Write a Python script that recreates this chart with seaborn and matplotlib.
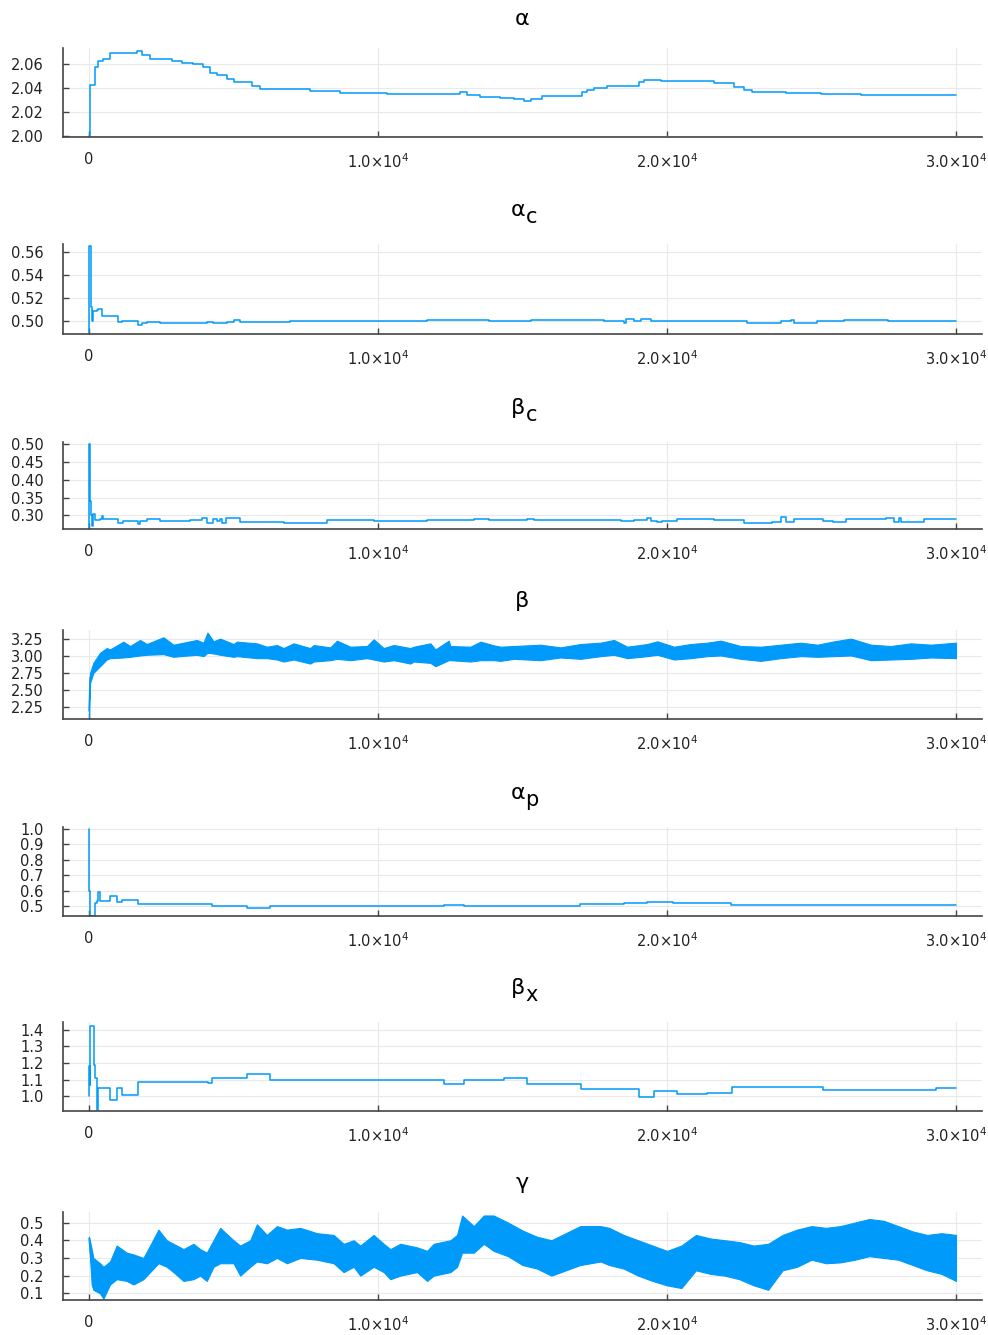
import numpy as np
import pandas as pd
import matplotlib
matplotlib.use("Agg")
import matplotlib.pyplot as plt
import seaborn as sns

# ---------------- data ----------------
# step-like traces: change-point iterations and values (held until next change)
alpha_it = [0, 35, 208, 300, 500, 727, 1016, 1300, 1651, 1824, 2113, 2864, 3210, 3614, 3961,
            4192, 4422, 4769, 5000, 5635, 5924, 7656, 8695, 10312, 10773, 12852, 13083, 13545,
            14238, 14700, 15046, 15277, 15681, 17067, 17240, 17471, 17933, 19030, 19203, 19780,
            21628, 22320, 22667, 22956, 24110, 25323, 26709, 28325, 30000]
alpha_val = [2.000, 2.043, 2.058, 2.063, 2.064, 2.069, 2.0695, 2.069, 2.071, 2.068, 2.064, 2.063,
             2.061, 2.060, 2.058, 2.053, 2.051, 2.048, 2.045, 2.042, 2.039, 2.0375, 2.036, 2.035,
             2.0355, 2.037, 2.034, 2.0328, 2.032, 2.031, 2.029, 2.031, 2.0335, 2.037, 2.0385,
             2.0405, 2.042, 2.045, 2.047, 2.046, 2.044, 2.041, 2.0385, 2.037, 2.036, 2.035,
             2.0345, 2.034, 2.034]

alphac_it = [0, 15, 58, 92, 150, 266, 323, 439, 1016, 1132, 1709, 1824, 1998, 2460, 3845, 4076,
             4307, 4769, 5000, 5231, 6963, 8291, 11697, 13833, 15277, 15392, 17817, 18510, 18568,
             18857, 19088, 19434, 19665, 22783, 23938, 24284, 24399, 25207, 26131, 27632, 28556,
             30000]
alphac_val = [0.489, 0.565, 0.512, 0.500, 0.508, 0.509, 0.510, 0.504, 0.499, 0.500, 0.4965,
              0.4975, 0.4985, 0.4975, 0.498, 0.4985, 0.4975, 0.499, 0.5005, 0.499, 0.4995, 0.500,
              0.5005, 0.500, 0.5008, 0.5003, 0.4995, 0.498, 0.501, 0.4995, 0.501, 0.500, 0.4995,
              0.498, 0.4995, 0.5008, 0.498, 0.4995, 0.5005, 0.500, 0.4995, 0.4995]

betac_it = [0, 10, 35, 58, 92, 150, 208, 381, 439, 497, 1016, 1189, 1709, 1767, 1998, 2460, 3499,
            3903, 4076, 4307, 4422, 4538, 4596, 4746, 5231, 6732, 8233, 9850, 11697, 13314, 13833,
            15161, 15392, 18395, 18510, 18857, 19318, 19434, 19665, 19838, 20358, 21397, 21628,
            22667, 23649, 23938, 24110, 24399, 25381, 25727, 26189, 27574, 27863, 28036, 28094,
            28902, 30000]
betac_val = [0.263, 0.500, 0.340, 0.300, 0.270, 0.305, 0.288, 0.290, 0.298, 0.290, 0.279, 0.286,
             0.275, 0.286, 0.291, 0.286, 0.287, 0.292, 0.280, 0.290, 0.284, 0.289, 0.280, 0.293,
             0.283, 0.280, 0.288, 0.285, 0.287, 0.289, 0.288, 0.290, 0.288, 0.284, 0.286, 0.287,
             0.293, 0.285, 0.282, 0.284, 0.290, 0.289, 0.288, 0.280, 0.281, 0.296, 0.283, 0.291,
             0.285, 0.282, 0.289, 0.292, 0.281, 0.293, 0.281, 0.290, 0.290]

alphap_it = [0, 10, 35, 60, 208, 266, 323, 381, 727, 958, 1132, 1709, 4249, 5462, 6270, 12275,
             12968, 15000, 17000, 18500, 19300, 20200, 22200, 30000]
alphap_val = [1.000, 0.600, 0.440, 0.440, 0.520, 0.535, 0.590, 0.535, 0.565, 0.530, 0.543,
              0.512, 0.500, 0.490, 0.500, 0.510, 0.500, 0.505, 0.515, 0.520, 0.525, 0.520,
              0.510, 0.510]

betax_it = [0, 10, 30, 50, 160, 200, 270, 320, 727, 958, 1132, 1709, 4134, 4249, 5462, 6270,
            12275, 12968, 14353, 15161, 17009, 19030, 19549, 20358, 21397, 22263, 25381, 29307,
            30000]
betax_val = [1.000, 1.180, 1.070, 1.420, 1.190, 1.110, 0.920, 1.050, 0.975, 1.050, 1.005, 1.085,
             1.080, 1.110, 1.135, 1.100, 1.075, 1.100, 1.110, 1.075, 1.045, 0.995, 1.030, 1.015,
             1.017, 1.055, 1.040, 1.047, 1.047]

# noisy traces: lower / upper envelope of the sampled band
beta_it = [0, 35, 150, 381, 612, 727, 1189, 1420, 1767, 1998, 2575, 2921, 3152, 3730, 3961,
           4099, 4307, 4538, 5000, 5115, 5808, 6155, 6501, 6732, 7078, 7656, 7771, 8349, 8580,
           9041, 9619, 9850, 10196, 10542, 11120, 11235, 11812, 11986, 12448, 12505, 13198,
           13545, 14007, 14238, 14700, 15623, 16316, 17009, 17702, 18164, 18626, 19318, 19665,
           20242, 20820, 21397, 21859, 22552, 23245, 23938, 24631, 25208, 25785, 26363, 27056,
           27748, 28441, 29134, 30000]
beta_lo = [2.07, 2.60, 2.75, 2.85, 2.95, 2.97, 2.98, 2.99, 3.01, 3.02, 3.03, 2.99, 3.00, 3.02,
           3.00, 3.05, 3.04, 3.02, 2.99, 3.00, 2.97, 2.97, 2.95, 2.92, 2.95, 2.89, 2.92, 2.94,
           2.96, 2.94, 2.97, 2.95, 2.92, 2.94, 2.89, 2.92, 2.90, 2.85, 2.94, 2.94, 2.92, 2.94,
           2.94, 2.93, 2.96, 2.94, 2.98, 2.96, 3.00, 3.02, 2.97, 3.00, 3.02, 2.95, 2.97, 3.00,
           3.01, 2.96, 2.93, 2.97, 3.00, 2.99, 3.00, 3.01, 2.94, 2.95, 2.96, 2.98, 2.97]
beta_hi = [2.30, 2.75, 2.90, 3.05, 3.12, 3.10, 3.215, 3.15, 3.24, 3.18, 3.28, 3.17, 3.19, 3.24,
           3.20, 3.35, 3.22, 3.26, 3.18, 3.215, 3.19, 3.14, 3.165, 3.12, 3.19, 3.12, 3.165, 3.13,
           3.23, 3.14, 3.15, 3.25, 3.12, 3.165, 3.12, 3.14, 3.19, 3.10, 3.23, 3.15, 3.14, 3.215,
           3.16, 3.14, 3.15, 3.17, 3.13, 3.18, 3.20, 3.24, 3.14, 3.18, 3.22, 3.14, 3.18, 3.20,
           3.23, 3.15, 3.14, 3.17, 3.20, 3.17, 3.22, 3.26, 3.17, 3.15, 3.19, 3.17, 3.20]

gamma_it = [0, 92, 150, 381, 497, 727, 958, 1305, 1536, 1882, 2113, 2402, 2690, 2921, 3268,
            3614, 3845, 4076, 4307, 4538, 5000, 5231, 5578, 5809, 6155, 6501, 6848, 7309, 7887,
            8464, 8810, 9157, 9387, 9849, 10196, 10427, 10773, 11350, 11697, 11927, 12505, 12736,
            12910, 13314, 13660, 14000, 14500, 15000, 15500, 16000, 16500, 17000, 17700, 18000,
            18500, 19000, 19500, 20000, 20500, 21000, 21500, 22000, 22500, 23000, 23500, 24000,
            24500, 25000, 25500, 26000, 26500, 27000, 27500, 28000, 28500, 29000, 29500, 30000]
gamma_lo = [0.40, 0.15, 0.12, 0.10, 0.07, 0.15, 0.18, 0.17, 0.15, 0.18, 0.22, 0.27, 0.25, 0.22,
            0.17, 0.18, 0.20, 0.17, 0.25, 0.27, 0.27, 0.20, 0.25, 0.28, 0.27, 0.30, 0.27, 0.30,
            0.29, 0.27, 0.22, 0.25, 0.20, 0.25, 0.22, 0.18, 0.20, 0.22, 0.17, 0.20, 0.22, 0.25,
            0.33, 0.33, 0.38, 0.34, 0.31, 0.26, 0.24, 0.20, 0.23, 0.26, 0.28, 0.26, 0.24, 0.20,
            0.17, 0.145, 0.13, 0.23, 0.21, 0.20, 0.18, 0.145, 0.12, 0.23, 0.25, 0.29, 0.27, 0.275,
            0.29, 0.31, 0.30, 0.29, 0.26, 0.23, 0.21, 0.17]
gamma_hi = [0.42, 0.35, 0.30, 0.27, 0.25, 0.28, 0.37, 0.33, 0.32, 0.30, 0.37, 0.46, 0.40, 0.38,
            0.35, 0.38, 0.35, 0.33, 0.40, 0.47, 0.40, 0.37, 0.40, 0.49, 0.43, 0.48, 0.46, 0.47,
            0.44, 0.43, 0.38, 0.40, 0.37, 0.43, 0.38, 0.35, 0.38, 0.36, 0.34, 0.38, 0.40, 0.43,
            0.54, 0.48, 0.54, 0.54, 0.50, 0.455, 0.42, 0.40, 0.44, 0.48, 0.48, 0.47, 0.43, 0.40,
            0.37, 0.34, 0.37, 0.43, 0.41, 0.40, 0.39, 0.37, 0.38, 0.43, 0.46, 0.48, 0.47, 0.48,
            0.50, 0.52, 0.51, 0.48, 0.45, 0.43, 0.44, 0.43]

# titles: (base symbol, subscript)
titles = [("α", ""), ("α", "c"), ("β", "c"), ("β", ""), ("α", "p"), ("β", "x"), ("γ", "")]
x_ticks = [0, 10000, 20000, 30000]
x_ticklabels = ["0", r"$1.0{\times}10^{4}$", r"$2.0{\times}10^{4}$", r"$3.0{\times}10^{4}$"]
y_ticks = [[2.00, 2.02, 2.04, 2.06],
           [0.50, 0.52, 0.54, 0.56],
           [0.30, 0.35, 0.40, 0.45, 0.50],
           [2.25, 2.50, 2.75, 3.00, 3.25],
           [0.5, 0.6, 0.7, 0.8, 0.9, 1.0],
           [1.0, 1.1, 1.2, 1.3, 1.4],
           [0.1, 0.2, 0.3, 0.4, 0.5]]
y_ticklabels = [["2.00", "2.02", "2.04", "2.06"],
                ["0.50", "0.52", "0.54", "0.56"],
                ["0.30", "0.35", "0.40", "0.45", "0.50"],
                ["2.25", "2.50", "2.75", "3.00", "3.25"],
                ["0.5", "0.6", "0.7", "0.8", "0.9", "1.0"],
                ["1.0", "1.1", "1.2", "1.3", "1.4"],
                ["0.1", "0.2", "0.3", "0.4", "0.5"]]
y_lims = [(1.9992, 2.0735), (0.4883, 0.567), (0.2624, 0.5044), (2.067, 3.388),
          (0.4376, 1.0103), (0.912, 1.4456), (0.0623, 0.5597)]

# ---------------- styling ----------------
sns.set_theme(style="white")
plt.rcParams["font.family"] = ["DejaVu Sans"]
plt.rcParams["mathtext.fontset"] = "dejavusans"

LINE = "#009AFA"
W, H = 988, 1335
PT = 72.0 / 100.0  # points per pixel
fig = plt.figure(figsize=(W / 100, H / 100), dpi=100)
fig.patch.set_facecolor("white")

tops = [48, 244, 442, 630, 827, 1022, 1212]
bots = [137, 334, 529, 719, 916, 1111, 1300]
left_px, right_px = 63, 982

step_series = {0: (alpha_it, alpha_val), 1: (alphac_it, alphac_val), 2: (betac_it, betac_val),
               4: (alphap_it, alphap_val), 5: (betax_it, betax_val)}
band_series = {3: (beta_it, beta_lo, beta_hi), 6: (gamma_it, gamma_lo, gamma_hi)}

for i in range(7):
    ax = fig.add_axes([left_px / W, 1 - bots[i] / H, (right_px - left_px) / W,
                       (bots[i] - tops[i]) / H])
    ax.set_facecolor("white")
    if i in step_series:
        it, val = step_series[i]
        sns.lineplot(x=it, y=val, ax=ax, color=LINE, linewidth=1.1,
                     drawstyle="steps-post", estimator=None)
    else:
        it, lo, hi = band_series[i]
        df = pd.DataFrame({"it": list(it) + list(it), "v": list(lo) + list(hi)})
        sns.lineplot(data=df, x="it", y="v", ax=ax, color=LINE, linewidth=1.0,
                     estimator="mean", errorbar=("pi", 100),
                     err_kws={"alpha": 1.0, "linewidth": 0.8, "edgecolor": LINE})
    ax.set_xlim(-900, 30900)
    ax.set_ylim(*y_lims[i])
    ax.set_xticks(x_ticks)
    ax.set_xticklabels(x_ticklabels)
    ax.set_yticks(y_ticks[i])
    ax.set_yticklabels(y_ticklabels[i])
    ax.set_xlabel("")
    ax.set_ylabel("")
    ax.grid(True, color="#e9e9e9", linewidth=0.8)
    ax.set_axisbelow(True)
    for s in ["top", "right"]:
        ax.spines[s].set_visible(False)
    for s in ["left", "bottom"]:
        ax.spines[s].set_color("#444444")
        ax.spines[s].set_linewidth(1.2)
    ax.tick_params(axis="both", direction="in", length=4, width=1.0, color="#444444",
                   labelsize=10.5, labelcolor="#222222")
    ax.tick_params(axis="y", pad=14, left=True)
    ax.tick_params(axis="x", pad=11, bottom=True)

    base, sub = titles[i]
    if sub:
        ax.annotate(base, xy=(0.5, 1), xycoords="axes fraction",
                    xytext=(-4.5 * PT, 28 * PT), textcoords="offset points",
                    ha="center", va="baseline", fontsize=16, color="black")
        ax.annotate(sub, xy=(0.5, 1), xycoords="axes fraction",
                    xytext=(3.0 * PT, 21 * PT), textcoords="offset points",
                    ha="left", va="baseline", fontsize=15, color="black")
    else:
        ax.annotate(base, xy=(0.5, 1), xycoords="axes fraction",
                    xytext=(0, 23 * PT), textcoords="offset points",
                    ha="center", va="baseline", fontsize=16, color="black")

fig.savefig("out.png", dpi=100, facecolor="white")
